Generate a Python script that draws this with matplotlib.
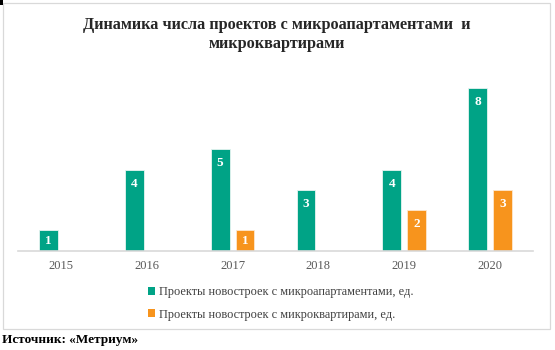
import matplotlib
matplotlib.use("Agg")
import matplotlib.pyplot as plt
from matplotlib.patches import Rectangle, Patch

years = ["2015", "2016", "2017", "2018", "2019", "2020"]
micro_apartments = [1, 4, 5, 3, 4, 8]
micro_flats = [0, 0, 1, 0, 2, 3]
series_names = [
    "Проекты новостроек с микроапартаментами, ед.",
    "Проекты новостроек с микроквартирами, ед.",
]
title_lines = ["Динамика числа проектов с микроапартаментами  и", "микроквартирами"]
source_text = "Источник: «Метриум»"

GREEN = "#00A386"
ORANGE = "#F7941D"
GRID = "#D9D9D9"

plt.rcParams["font.family"] = ["Liberation Serif", "DejaVu Serif"]

W, H = 555, 350
fig = plt.figure(figsize=(W / 100, H / 100), dpi=100)

def fx(px):
    return px / W

def fy(py):
    return 1 - py / H

# outer frame of the chart area
fig.patches.append(Rectangle((fx(3), fy(329)), fx(547), (329 - 3) / H,
                             transform=fig.transFigure, fill=False,
                             edgecolor=GRID, linewidth=0.9, zorder=0))
fig.patches.append(Rectangle((0, fy(5)), fx(2.5), 5 / H,
                             transform=fig.transFigure, facecolor="black",
                             edgecolor="none", zorder=1))

ax = fig.add_axes([fx(18), fy(250.7), fx(515), (250.7 - 68) / H])
x = list(range(len(years)))
w = 0.22
off = 0.145
ax.bar([i - off for i in x], micro_apartments, width=w, color=GREEN,
       edgecolor="#E6F4F1", linewidth=0.6, zorder=2)
ax.bar([i + off for i in x], micro_flats, width=w, color=ORANGE,
       edgecolor="#FDE8CF", linewidth=0.6, zorder=2)

ax.set_xlim(-0.5, 5.5)
ax.set_ylim(0, 9)
ax.set_yticks([])
ax.set_xticks(x)
ax.set_xticklabels(years, fontsize=9, color="#595959")
ax.tick_params(axis="x", length=0, pad=7)
for s in ["top", "right", "left"]:
    ax.spines[s].set_visible(False)
ax.spines["bottom"].set_color(GRID)
ax.spines["bottom"].set_linewidth(1.2)

inset = 0.69
for xs, vals in ((-off, micro_apartments), (off, micro_flats)):
    for i, v in enumerate(vals):
        if v > 0:
            ax.text(i + xs, max(v - inset, v / 2), str(v), ha="center", va="center",
                    color="white", fontsize=9.5, fontweight="bold", zorder=3)

fig.text(fx(277), fy(25), title_lines[0], ha="center", va="center",
         fontsize=11.7, fontweight="bold", color="#262626")
fig.text(fx(277), fy(44), title_lines[1], ha="center", va="center",
         fontsize=11.7, fontweight="bold", color="#262626")

handles = [Patch(facecolor=GREEN, edgecolor="none"),
           Patch(facecolor=ORANGE, edgecolor="none")]
fig.legend(handles, series_names, loc="upper left",
           bbox_to_anchor=(fx(148), fy(286)), frameon=False,
           fontsize=8.9, handlelength=0.6, handleheight=0.6,
           handletextpad=0.3, labelspacing=0.85, borderpad=0, borderaxespad=0,
           labelcolor="#404040")

fig.text(fx(2), fy(340), source_text, ha="left", va="center",
         fontsize=9.5, fontweight="bold", color="black")

fig.savefig("out.png", dpi=100, facecolor="white")
